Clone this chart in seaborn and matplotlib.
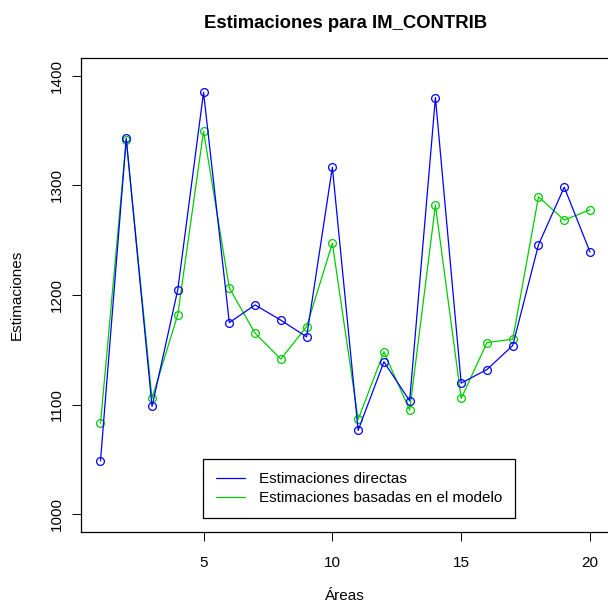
import matplotlib
matplotlib.use("Agg")
import matplotlib.pyplot as plt
import seaborn as sns
import pandas as pd
from matplotlib.lines import Line2D

areas = list(range(1, 21))
directas = [1048.5, 1342.6, 1098.2, 1204.7, 1384.7, 1174.7, 1190.8, 1176.9, 1161.7, 1316.4,
            1076.4, 1138.9, 1103.4, 1379.9, 1119.5, 1131.9, 1153.8, 1245.7, 1298.2, 1239.0]
modelo = [1082.8, 1341.3, 1105.5, 1182.0, 1349.2, 1206.3, 1165.0, 1141.4, 1171.0, 1247.0,
          1086.4, 1148.0, 1094.9, 1281.8, 1105.5, 1156.5, 1159.6, 1289.4, 1268.2, 1277.6]
series_labels = ["Estimaciones directas", "Estimaciones basadas en el modelo"]
x_ticks = [5, 10, 15, 20]
y_ticks = [1000, 1100, 1200, 1300, 1400]

sns.set_style("white")
plt.rcParams['font.family'] = ['Liberation Sans', 'DejaVu Sans']
plt.rcParams['text.color'] = 'black'
plt.rcParams['axes.labelcolor'] = 'black'
plt.rcParams['xtick.color'] = 'black'
plt.rcParams['ytick.color'] = 'black'

W, H = 608, 603
fig = plt.figure(figsize=(W / 100, H / 100), dpi=100)
left, right, top, bottom = 80.9, 609.6, 58.0, 531.7
aw, ah = right - left, bottom - top
ax = fig.add_axes([left / W, 1 - bottom / H, aw / W, ah / H])

blue = "#0000FF"
green = "#00CD00"
fs = 11

df_d = pd.DataFrame({"Area": areas, "Valor": directas})
df_m = pd.DataFrame({"Area": areas, "Valor": modelo})
sns.lineplot(data=df_d, x="Area", y="Valor", ax=ax, color=blue, lw=0.9,
             marker="o", markersize=5.6, markerfacecolor="none",
             markeredgecolor=blue, markeredgewidth=0.9, zorder=3)
sns.lineplot(data=df_m, x="Area", y="Valor", ax=ax, color=green, lw=0.9,
             marker="o", markersize=5.6, markerfacecolor="none",
             markeredgecolor=green, markeredgewidth=0.9, zorder=2)

ax.set_xlim(0.24, 20.76)
ax.set_ylim(984, 1416)
ax.set_xticks(x_ticks)
ax.set_yticks(y_ticks)
ax.set_xticklabels([str(t) for t in x_ticks], fontsize=fs)
ax.set_yticklabels([str(t) for t in y_ticks], fontsize=fs, rotation=90, va="center")
ax.tick_params(axis="both", direction="out", length=6.5, width=0.7, color="black",
               left=True, bottom=True)
ax.tick_params(axis="x", pad=11)
ax.tick_params(axis="y", pad=6)
for s in ax.spines.values():
    s.set_color("black")
    s.set_linewidth(0.9)

ax.set_xlabel("Áreas", fontsize=fs, va="center")
ax.xaxis.set_label_coords(0.5, (bottom - 596) / ah)
ax.set_ylabel("Estimaciones", fontsize=fs, va="center")
ax.yaxis.set_label_coords((17 - left) / aw, 0.5)
fig.text((left + right) / 2 / W, 1 - 23 / H, "Estimaciones para IM_CONTRIB", fontsize=13.3,
         fontweight="bold", ha="center", va="center")

handles = [Line2D([], [], color=blue, lw=0.9), Line2D([], [], color=green, lw=0.9)]
leg = ax.legend(handles, series_labels, loc="upper left",
                bbox_to_anchor=(203.3 / W, 1 - 459.3 / H), bbox_transform=fig.transFigure,
                fontsize=fs, frameon=True, fancybox=False, edgecolor="black",
                framealpha=1, handlelength=1.85, handletextpad=0.92, borderpad=0.85,
                labelspacing=0.3, borderaxespad=0)
leg.get_frame().set_linewidth(0.9)

fig.savefig("out.png", dpi=100)
